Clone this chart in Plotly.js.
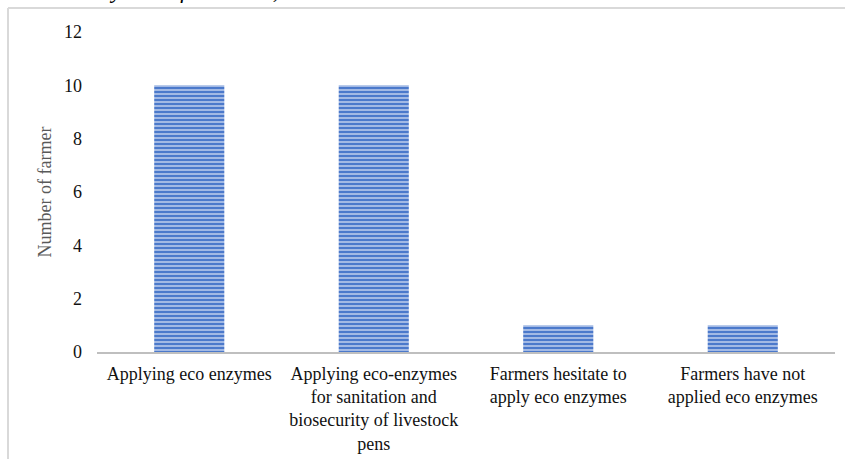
<!DOCTYPE html>
<html>
<head>
<meta charset="utf-8">
<script src="https://cdn.plot.ly/plotly-3.0.1.min.js"></script>
<style>html,body{margin:0;padding:0;background:#fff;}#chart{width:845px;height:459px;}</style>
</head>
<body>
<div id="chart"></div>
<script>
const categories = [
  "Applying eco enzymes",
  "Applying eco-enzymes<br>for sanitation and<br>biosecurity of livestock<br>pens",
  "Farmers hesitate to<br>apply eco enzymes",
  "Farmers have not<br>applied eco enzymes"
];
const farmers = [10, 10, 1, 1];
const yTicks = [0, 2, 4, 6, 8, 10, 12];
const headerText = "Community Transfer.  Vol. 3, No. 1 2022 / 54 - 59";
const yTitle = "Number of farmer";

const serif = "Times New Roman, Liberation Serif, serif";

const trace = {
  type: 'bar',
  x: categories,
  y: farmers,
  marker: {
    color: '#4472C4',
    line: {width: 0},
    pattern: {shape: '-', fgcolor: '#c8d5ef', bgcolor: '#4b79cb', size: 4, solidity: 0.35, fillmode: 'replace'}
  },
  hoverinfo: 'none'
};

const layout = {
  width: 845, height: 459,
  margin: {l: 97, r: 10, t: 32, b: 107},
  paper_bgcolor: '#fff', plot_bgcolor: '#fff',
  showlegend: false,
  bargap: 0.62,
  font: {family: serif, size: 18, color: '#000'},
  xaxis: {
    type: 'category',
    showgrid: false, zeroline: false,
    showline: true, linecolor: '#bfbfbf', linewidth: 2,
    ticks: '', ticklabelstandoff: 4,
    tickfont: {family: serif, size: 18, color: '#111'},
    automargin: false
  },
  yaxis: {
    range: [0, 12],
    tickvals: yTicks,
    showgrid: false, zeroline: false, showline: false,
    ticks: '', ticklabelstandoff: 14,
    tickfont: {family: serif, size: 18, color: '#111'},
    title: {text: yTitle, font: {family: serif, size: 18, color: '#595959'}, standoff: 7},
    automargin: false
  },
  shapes: [
    {type: 'line', xref: 'paper', yref: 'paper', x0: -0.1206, x1: -0.1206, y0: 1.075, y1: -0.5, line: {color: '#d9d9d9', width: 2}},
    {type: 'line', xref: 'paper', yref: 'paper', x0: -0.1206, x1: 1.2, y0: 1.075, y1: 1.075, line: {color: '#d9d9d9', width: 2}}
  ],
  annotations: [
    {text: headerText, xref: 'paper', yref: 'paper', x: (472 - 97) / 738, y: 1 + 27 / 320,
     xanchor: 'right', yanchor: 'bottom', showarrow: false,
     font: {family: serif, size: 23, color: '#000', style: 'italic'}}
  ]
};

Plotly.newPlot('chart', [trace], layout, {displayModeBar: false, staticPlot: true});
</script>
</body>
</html>
